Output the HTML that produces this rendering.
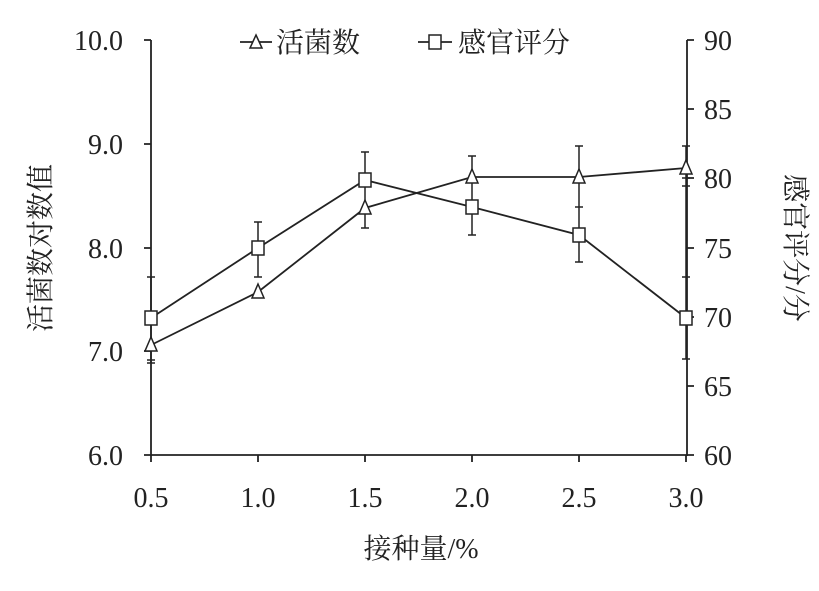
<!DOCTYPE html>
<html><head><meta charset="utf-8"><style>
body{margin:0;background:#fff}
svg text{font-family:"Liberation Serif","Noto Serif CJK SC","Noto Sans CJK SC",serif;fill:#222}
</style></head><body>
<svg width="819" height="586" viewBox="0 0 819 586" xmlns="http://www.w3.org/2000/svg">
<g stroke="#222" stroke-width="1.8" fill="none">
<line x1="151" y1="40" x2="151" y2="456"/>
<line x1="687" y1="40" x2="687" y2="456"/>
<line x1="151" y1="455" x2="687" y2="455"/>
<path d="M144 40H151M144 144H151M144 248H151M144 351H151M144 455H151"/>
<path d="M687 40H694M687 109H694M687 178H694M687 248H694M687 317H694M687 386H694M687 455H694"/>
<path d="M151 455V462M258 455V462M365 455V462M472 455V462M579 455V462M686 455V462"/>
<g stroke-width="1.5">
<path d="M151 277V363M147 277H155M147 360H155M147 363H155"/>
<path d="M258 222V277M254 222H262M254 277H262"/>
<path d="M365 152V228M361 152H369M361 228H369"/>
<path d="M472 156V235M468 156H476M468 235H476"/>
<path d="M579 146V262M575 146H583M575 207H583M575 262H583"/>
<path d="M686 146V359M682 146H690M682 178H690M682 186H690M682 277H690M682 359H690"/>
</g>
<polyline points="151,345 258,292 365,208 472,177 579,177 686,168"/>
<polyline points="151,318 258,248 365,180 472,207 579,235 686,318"/>
<g fill="#fff" stroke-width="1.5">
<path d="M151 337l6 14h-12z"/><path d="M258 284l6 14h-12z"/><path d="M365 200l6 14h-12z"/>
<path d="M472 169l6 14h-12z"/><path d="M579 169l6 14h-12z"/><path d="M686 160l6 14h-12z"/>
<rect x="145" y="311" width="12" height="14"/><rect x="252" y="241" width="12" height="14"/>
<rect x="359" y="173" width="12" height="14"/><rect x="466" y="200" width="12" height="14"/>
<rect x="573" y="228" width="12" height="14"/><rect x="680" y="311" width="12" height="14"/>
</g>
<line x1="240" y1="42" x2="272" y2="42"/>
<path d="M256 35l6 13h-12z" fill="#fff" stroke-width="1.5"/>
<line x1="418" y1="42" x2="452" y2="42"/>
<rect x="429" y="35" width="12" height="14" fill="#fff" stroke-width="1.5"/>
</g>
<g font-size="28">
<text x="276" y="52">活菌数</text>
<text x="458" y="52">感官评分</text>
</g>
<g font-size="28" text-anchor="end">
<text x="123" y="50">10.0</text><text x="123" y="154">9.0</text><text x="123" y="258">8.0</text>
<text x="123" y="361">7.0</text><text x="123" y="465">6.0</text>
</g>
<g font-size="28">
<text x="704" y="50">90</text><text x="704" y="119">85</text><text x="704" y="188">80</text>
<text x="704" y="258">75</text><text x="704" y="327">70</text><text x="704" y="396">65</text><text x="704" y="465">60</text>
</g>
<g font-size="28" text-anchor="middle">
<text x="151" y="507">0.5</text><text x="258" y="507">1.0</text><text x="365" y="507">1.5</text>
<text x="472" y="507">2.0</text><text x="579" y="507">2.5</text><text x="686" y="507">3.0</text>
<text x="421" y="558">接种量/%</text>
<text transform="translate(50,248) rotate(-90)">活菌数对数值</text>
<text transform="translate(786,248) rotate(90)">感官评分/分</text>
</g>
</svg>
</body></html>
